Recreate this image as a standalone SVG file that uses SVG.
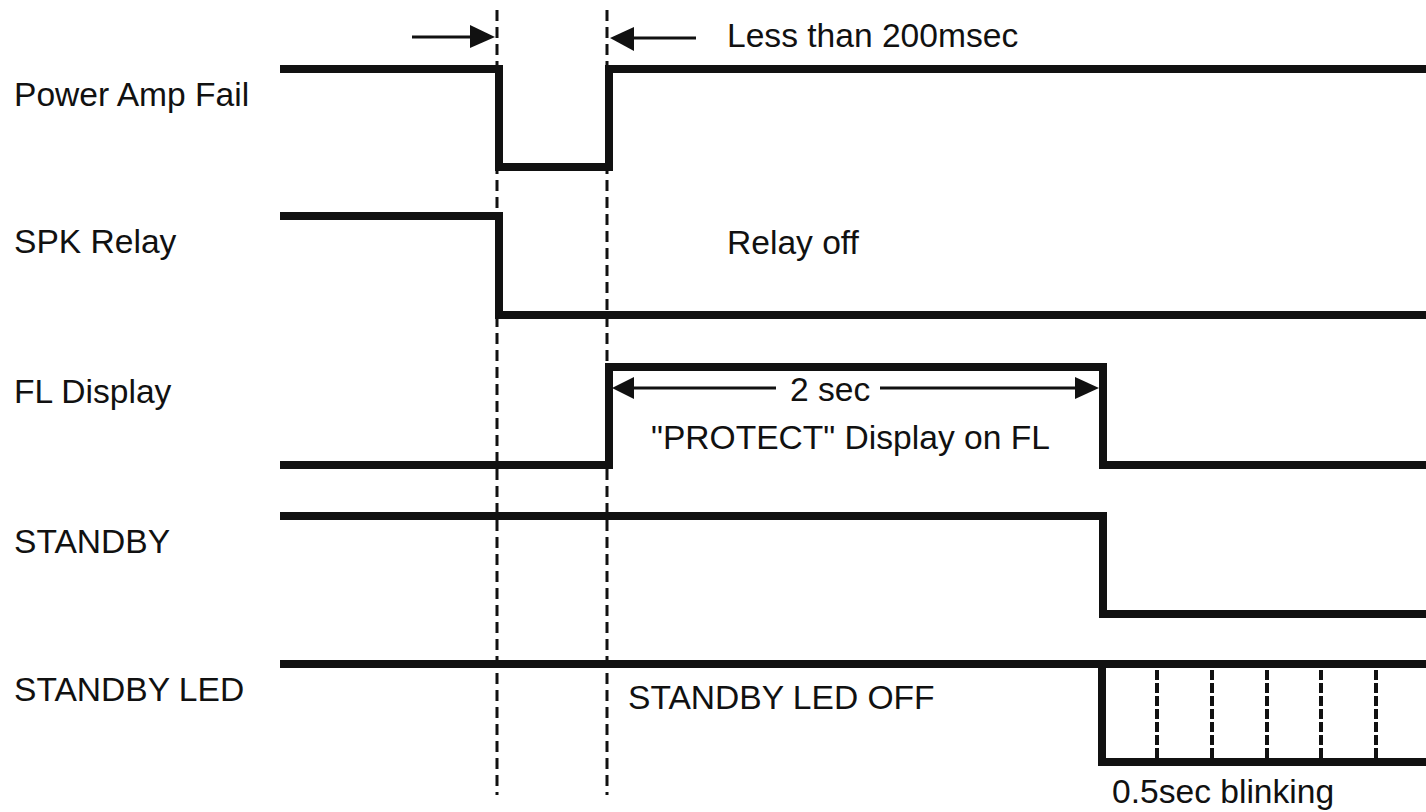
<svg xmlns="http://www.w3.org/2000/svg" width="1426" height="812" viewBox="0 0 1426 812">
<defs>
<style>
text{font-family:"Liberation Sans",Arial,sans-serif;font-size:33.6px;fill:#111}
.sig{fill:none;stroke:#111;stroke-width:8;stroke-linejoin:miter;stroke-linecap:butt}
.dash{fill:none;stroke:#111;stroke-width:3;stroke-dasharray:11 6}
.blink{fill:none;stroke:#111;stroke-width:4;stroke-dasharray:10 3}
.arr{fill:none;stroke:#111;stroke-width:3}
.head{fill:#111}
</style>
</defs>
<rect width="1426" height="812" fill="#fff"/>
<g id="labels">
<text x="14" y="106">Power Amp Fail</text>
<text x="14" y="253">SPK Relay</text>
<text x="14" y="403">FL Display</text>
<text x="14" y="553">STANDBY</text>
<text x="14" y="701">STANDBY LED</text>
</g>
<g id="connectors">
<line class="dash" x1="497" y1="10" x2="497" y2="795"/>
<line class="dash" x1="607" y1="10" x2="607" y2="795"/>
</g>
<g id="power-amp-fail">
<polyline class="sig" points="280,69 499,69 499,167 609,167 609,69 1426,69"/>
<line class="arr" x1="412" y1="37" x2="472" y2="37"/>
<polygon class="head" points="495,37 470,25 470,48"/>
<line class="arr" x1="632" y1="38" x2="696" y2="38"/>
<polygon class="head" points="610,38 634,27 634,51"/>
<text x="727" y="47">Less than 200msec</text>
</g>
<g id="spk-relay">
<polyline class="sig" points="280,216 499,216 499,315 1426,315"/>
<text x="727" y="254">Relay off</text>
</g>
<g id="fl-display">
<polyline class="sig" points="280,465 609,465 609,367 1103,367 1103,465 1426,465"/>
<line class="arr" x1="630" y1="388" x2="776" y2="388"/>
<line class="arr" x1="880" y1="388" x2="1078" y2="388"/>
<polygon class="head" points="612,388 634,377 634,399"/>
<polygon class="head" points="1099,388 1075,377 1075,399"/>
<text x="790" y="401">2 sec</text>
<text x="651" y="449">"PROTECT" Display on FL</text>
</g>
<g id="standby">
<polyline class="sig" points="280,516 1103,516 1103,614 1426,614"/>
</g>
<g id="standby-led">
<line class="sig" x1="280" y1="664" x2="1426" y2="664"/>
<polyline class="sig" points="1426,762 1102,762 1102,664"/>
<line class="blink" x1="1157" y1="670" x2="1157" y2="758"/>
<line class="blink" x1="1212" y1="670" x2="1212" y2="758"/>
<line class="blink" x1="1267" y1="670" x2="1267" y2="758"/>
<line class="blink" x1="1321" y1="670" x2="1321" y2="758"/>
<line class="blink" x1="1376" y1="670" x2="1376" y2="758"/>
<text x="628" y="709">STANDBY LED OFF</text>
<text x="1112" y="803">0.5sec blinking</text>
</g>
</svg>
